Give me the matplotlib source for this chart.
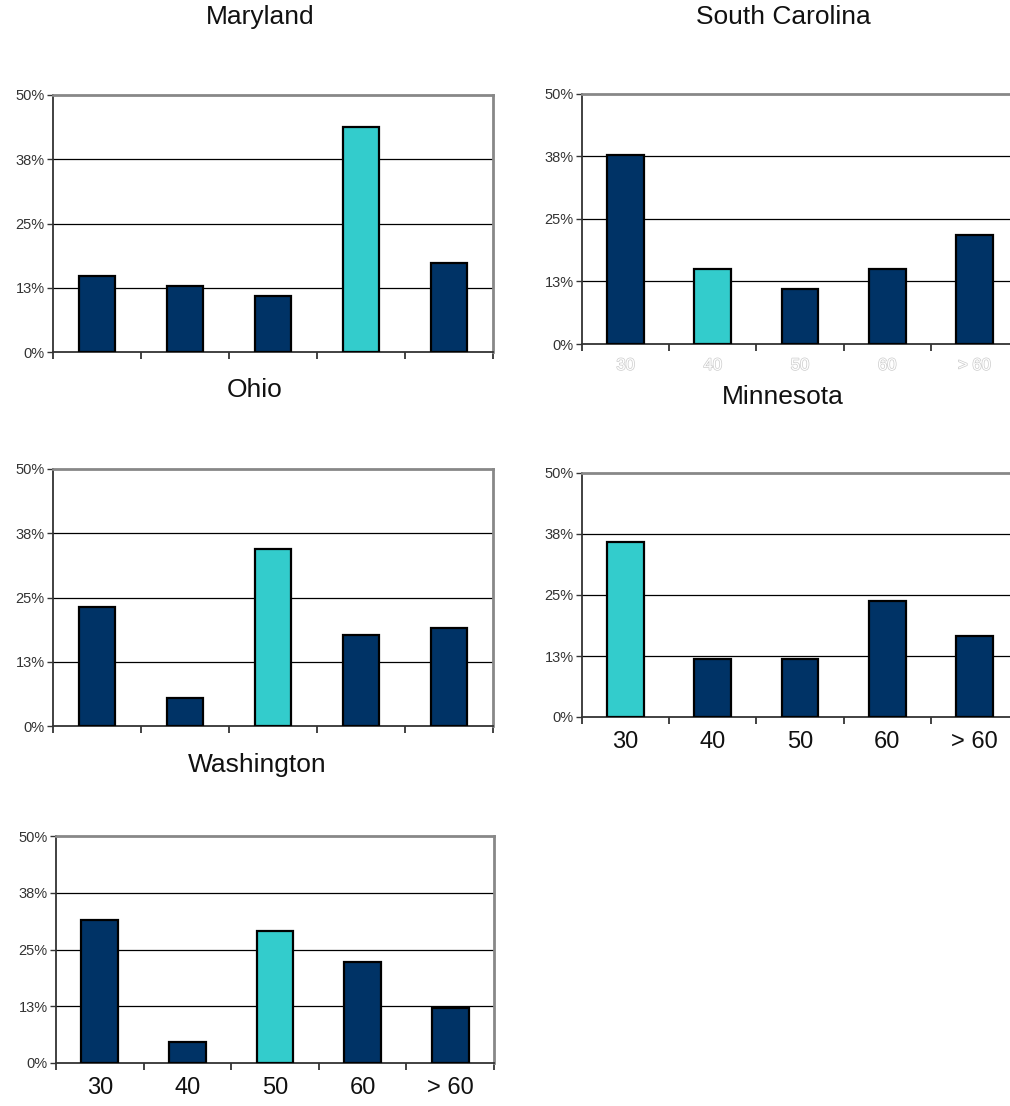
import matplotlib
matplotlib.use("Agg")
import matplotlib.pyplot as plt
import matplotlib.patheffects as pe

plt.rcParams['font.family'] = ['Liberation Sans', 'DejaVu Sans']

categories = ['30', '40', '50', '60', '> 60']
y_ticks = [0, 12.5, 25, 37.5, 50]
y_tick_labels = ['0%', '13%', '25%', '38%', '50%']

maryland = [14.8, 12.9, 10.8, 43.8, 17.3]
south_carolina = [37.8, 15.0, 11.0, 15.0, 21.7]
ohio = [23.2, 5.5, 34.4, 17.7, 19.0]
minnesota = [35.8, 11.9, 11.9, 23.8, 16.7]
washington = [31.5, 4.7, 29.1, 22.3, 12.2]

# index of the highlighted age group in each state
maryland_hi = 3
south_carolina_hi = 1
ohio_hi = 2
minnesota_hi = 0
washington_hi = 2

NAVY = '#003366'
CYAN = '#33CCCC'

W, H = 1010, 1106
fig = plt.figure(figsize=(W / 100, H / 100), dpi=100)


def px_axes(left, top, right, bottom):
    return fig.add_axes([left / W, 1 - bottom / H, (right - left) / W, (bottom - top) / H])


def panel(ax, values, hi, title, title_xy, xlabels=None):
    n = len(values)
    colors = [CYAN if i == hi else NAVY for i in range(n)]
    ax.bar(range(n), values, width=0.42, color=colors, edgecolor='black',
           linewidth=1.6, zorder=3)
    ax.set_xlim(-0.5, n - 0.5)
    ax.set_ylim(0, 50)
    ax.set_yticks(y_ticks)
    ax.set_yticklabels(y_tick_labels, fontsize=10.5, color='#333333')
    ax.tick_params(axis='y', length=4, width=1, direction='out', pad=2, color='#333333')
    ax.set_axisbelow(True)
    for y in y_ticks[1:-1]:
        ax.axhline(y, color='black', linewidth=0.9, zorder=1)
    # boundaries between age groups carry the tick marks
    ax.set_xticks([i - 0.5 for i in range(n + 1)])
    ax.set_xticklabels([])
    ax.tick_params(axis='x', which='major', length=5, width=1.2, direction='out',
                   color='#222222')
    ax.set_xticks(range(n), minor=True)
    ax.tick_params(axis='x', which='minor', length=0)
    if xlabels == 'dark':
        ax.set_xticklabels(categories, minor=True, fontsize=17, color='#111111')
        ax.tick_params(axis='x', which='minor', pad=10)
    elif xlabels == 'faint':
        labels = ax.set_xticklabels(categories, minor=True, fontsize=12, color='white')
        for t in labels:
            t.set_path_effects([pe.withStroke(linewidth=1.0, foreground='#cccccc')])
        ax.tick_params(axis='x', which='minor', pad=10)
    for side in ('left', 'bottom'):
        ax.spines[side].set_color('#333333')
        ax.spines[side].set_linewidth(1.3)
    for side in ('top', 'right'):
        ax.spines[side].set_color('#888888')
        ax.spines[side].set_linewidth(2.0)
    fig.text(title_xy[0] / W, 1 - title_xy[1] / H, title, fontsize=19,
             ha='center', va='center', color='#111111')


panel(px_axes(53, 95, 493, 352), maryland, maryland_hi, 'Maryland', (260, 17))
panel(px_axes(582, 94, 1018, 344), south_carolina, south_carolina_hi,
      'South Carolina', (783, 17), xlabels='faint')
panel(px_axes(53, 469, 493, 726), ohio, ohio_hi, 'Ohio', (255, 390))
panel(px_axes(582, 473, 1018, 717), minnesota, minnesota_hi, 'Minnesota',
      (783, 397), xlabels='dark')
panel(px_axes(56, 836, 494, 1063), washington, washington_hi, 'Washington',
      (257, 765), xlabels='dark')

fig.savefig('out.png', dpi=100, facecolor='white')
